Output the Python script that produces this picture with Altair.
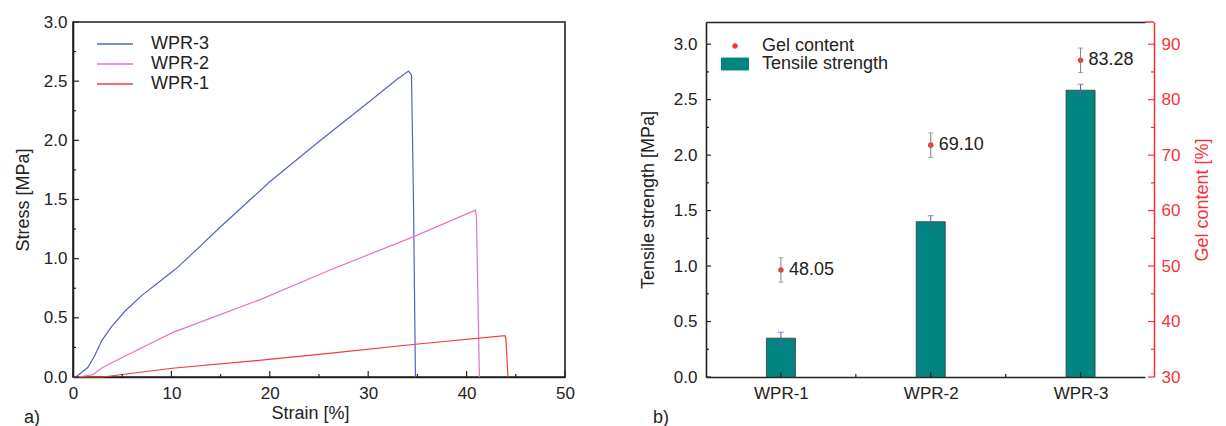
import altair as alt
import pandas as pd

FONT = "Liberation Sans"
TXT = "#222222"
RED = "#f5333a"
TEAL = "#008580"

# ---------------- panel a) : stress-strain curves ----------------
series_names = ["WPR-3", "WPR-2", "WPR-1"]
series_colors = ["#5560c4", "#e374c4", "#f23c3c"]

wpr3_strain = [0.0, 0.3, 1.5, 2.2, 2.94, 3.96, 5.32, 7.0, 9.0, 10.4, 12.1, 15.0, 20.0, 25.0, 30.0, 33.0, 34.1, 34.4, 34.6, 34.8]
wpr3_stress = [0.0, 0.0, 0.08, 0.18, 0.31, 0.43, 0.56, 0.69, 0.82, 0.91, 1.04, 1.27, 1.65, 1.99, 2.32, 2.52, 2.585, 2.55, 1.5, 0.0]
wpr2_strain = [0.0, 0.2, 1.0, 2.0, 3.0, 5.35, 10.1, 18.9, 26.0, 34.45, 40.9, 41.0, 41.3]
wpr2_stress = [0.0, 0.0, 0.005, 0.02, 0.08, 0.18, 0.375, 0.65, 0.90, 1.18, 1.41, 1.35, 0.0]
wpr1_strain = [0.0, 3.0, 10.1, 18.9, 26.0, 34.8, 43.9, 44.0, 44.2]
wpr1_stress = [0.0, 0.0, 0.074, 0.14, 0.20, 0.277, 0.35, 0.32, 0.0]

strain_major = [0, 10, 20, 30, 40, 50]
strain_minor = [5, 15, 25, 35, 45]
stress_major = [0.0, 0.5, 1.0, 1.5, 2.0, 2.5, 3.0]
stress_minor = [0.25, 0.75, 1.25, 1.75, 2.25, 2.75]

# ---------------- panel b) : bars + gel content ----------------
categories = ["WPR-1", "WPR-2", "WPR-3"]
cat_pos = [1, 2, 3]
tensile = [0.35, 1.40, 2.585]
tensile_err = [0.054, 0.054, 0.054]
gel = [49.3, 71.8, 87.1]
gel_err = [2.2, 2.2, 2.2]
gel_labels = ["48.05", "69.10", "83.28"]
legend_names = ["Gel content", "Tensile strength"]

ts_major = [0.0, 0.5, 1.0, 1.5, 2.0, 2.5, 3.0]
ts_minor = [0.25, 0.75, 1.25, 1.75, 2.25, 2.75]
gel_major = [30, 40, 50, 60, 70, 80, 90]
gel_minor = [35, 45, 55, 65, 75, 85]
x_major_b = [1, 2, 3]
x_minor_b = [1.5, 2.5]

W1, W2, H = 492, 439, 355

# ---------------- panel a) chart ----------------
rows = []
for name, xs, ys in [("WPR-3", wpr3_strain, wpr3_stress),
                     ("WPR-2", wpr2_strain, wpr2_stress),
                     ("WPR-1", wpr1_strain, wpr1_stress)]:
    for i, (x, y) in enumerate(zip(xs, ys)):
        rows.append({"series": name, "strain": x, "stress": y, "i": i})
df_a = pd.DataFrame(rows)

xs_a = alt.Scale(domain=[0, 50], nice=False, zero=False, padding=0)
ys_a = alt.Scale(domain=[0, 3], nice=False, zero=False, padding=0)
ax_x_a = alt.Axis(values=strain_major, format="d", title="Strain [%]", labelPadding=8, titlePadding=3,
                  titleX=237)
ax_y_a = alt.Axis(values=stress_major, format=".1f", title="Stress [MPa]", labelPadding=6, titlePadding=11)

lines = alt.Chart(df_a).mark_line(strokeWidth=1.2).encode(
    x=alt.X("strain:Q", scale=xs_a, axis=ax_x_a),
    y=alt.Y("stress:Q", scale=ys_a, axis=ax_y_a),
    color=alt.Color("series:N", scale=alt.Scale(domain=series_names, range=series_colors),
                    legend=alt.Legend(title=None, orient="none", legendX=32, legendY=12,
                                      symbolType="M-2,0H2", symbolSize=324, symbolStrokeWidth=1.4,
                                      labelFontSize=18, labelOffset=26, rowPadding=1, padding=0,
                                      labelColor=TXT, labelFont=FONT)),
    order="i:Q",
)


def xticks(vals, scale, axis, length):
    return alt.Chart(pd.DataFrame({"v": vals})).mark_rule(color=TXT, strokeWidth=1.2).encode(
        x=alt.X("v:Q", scale=scale, axis=axis),
        y=alt.value(H), y2=alt.value(H - length))


def yticks(vals, scale, axis, x0, x1, color=TXT):
    return alt.Chart(pd.DataFrame({"v": vals})).mark_rule(color=color, strokeWidth=1.2).encode(
        y=alt.Y("v:Q", scale=scale, axis=axis),
        x=alt.value(x0), x2=alt.value(x1))


label_a = alt.Chart(pd.DataFrame({"t": ["a)"]})).mark_text(
    align="left", baseline="alphabetic", fontSize=18, font=FONT, color=TXT
).encode(text="t:N", x=alt.value(25 - 74), y=alt.value(H + 46))

chart_a = alt.layer(
    lines,
    xticks(strain_major, xs_a, ax_x_a, 6), xticks(strain_minor, xs_a, ax_x_a, 3),
    yticks(stress_major, ys_a, ax_y_a, 0, 6), yticks(stress_minor, ys_a, ax_y_a, 0, 3),
    label_a,
).properties(width=W1, height=H,
             view=alt.ViewBackground(stroke=TXT, strokeWidth=1.6))

# ---------------- panel b) chart ----------------
xs_b = alt.Scale(domain=[0.5, 3.43], nice=False, zero=False, padding=0)
ys_b = alt.Scale(domain=[0, 3.2], nice=False, zero=False, padding=0)
gs_b = alt.Scale(domain=[30, 94], nice=False, zero=False, padding=0)

label_expr = " : ".join(f"datum.value == {p} ? '{c}'" for p, c in zip(cat_pos[:-1], categories[:-1])) \
    + f" : '{categories[-1]}'"

ax_x_b = alt.Axis(values=x_major_b, labelExpr=label_expr, title=None, labelPadding=8)
ax_ts = alt.Axis(values=ts_major, format=".1f", title="Tensile strength [MPa]", labelPadding=9, titlePadding=16)
ax_top = alt.Axis(orient="top", labels=False, title=None, domainColor=TXT)
ax_gel = alt.Axis(orient="right", offset=9, values=gel_major, title="Gel content [%]",
                  titleAngle=270, titleBaseline="top", labelColor=RED, titleColor=RED, domainColor=RED,
                  domainWidth=1.5, labelPadding=7, titlePadding=14)

df_b = pd.DataFrame({
    "pos": cat_pos, "cat": categories,
    "tensile": tensile,
    "t_lo": [t - e for t, e in zip(tensile, tensile_err)],
    "t_hi": [t + e for t, e in zip(tensile, tensile_err)],
    "gel": gel,
    "g_lo": [g - e for g, e in zip(gel, gel_err)],
    "g_hi": [g + e for g, e in zip(gel, gel_err)],
    "label": gel_labels,
    "series": ["Gel content"] * 3,
})
caps_t = pd.DataFrame({"pos": cat_pos * 2,
                       "v": [t - e for t, e in zip(tensile, tensile_err)] + [t + e for t, e in zip(tensile, tensile_err)]})
caps_g = pd.DataFrame({"pos": cat_pos * 2,
                       "v": [g - e for g, e in zip(gel, gel_err)] + [g + e for g, e in zip(gel, gel_err)]})

bars = alt.Chart(df_b).mark_bar(size=29, color=TEAL, stroke="#3a3a3a", strokeWidth=0.8).encode(
    x=alt.X("pos:Q", scale=xs_b, axis=ax_x_b),
    y=alt.Y("tensile:Q", scale=ys_b, axis=ax_ts),
)
t_err = alt.Chart(df_b).mark_rule(color="#5a5ab0", strokeWidth=1).encode(
    x=alt.X("pos:Q", scale=xs_b, axis=ax_x_b),
    y=alt.Y("t_lo:Q", scale=ys_b, axis=ax_ts), y2="t_hi:Q")
t_caps = alt.Chart(caps_t).mark_tick(orient="horizontal", size=6, thickness=1, color="#5a5ab0").encode(
    x=alt.X("pos:Q", scale=xs_b, axis=ax_x_b),
    y=alt.Y("v:Q", scale=ys_b, axis=ax_ts))

left_group = alt.layer(
    bars, t_err, t_caps,
    yticks(ts_major, ys_b, ax_ts, 0, 5), yticks(ts_minor, ys_b, ax_ts, 0, 3),
    xticks(x_major_b, xs_b, ax_x_b, 5), xticks(x_minor_b, xs_b, ax_x_b, 3),
)

dot_path = "M-0.4,0A0.4,0.4,0,1,1,0.4,0A0.4,0.4,0,1,1,-0.4,0Z"
rect_path = "M-2,-0.92H2V0.92H-2Z"
leg_b = alt.Legend(title=None, orient="none", legendX=20, legendY=15, symbolSize=196,
                   labelFontSize=18, labelOffset=18, rowPadding=0, padding=0,
                   labelColor=TXT, labelFont=FONT)

points = alt.Chart(df_b).mark_point(filled=True, size=196, opacity=1).encode(
    x=alt.X("pos:Q", scale=xs_b, axis=ax_top),
    y=alt.Y("gel:Q", scale=gs_b, axis=ax_gel),
    color=alt.Color("series:N", scale=alt.Scale(domain=legend_names, range=[RED, TEAL]), legend=leg_b),
    shape=alt.Shape("series:N", scale=alt.Scale(domain=legend_names, range=[dot_path, rect_path]), legend=leg_b),
)
g_err = alt.Chart(df_b).mark_rule(color="#808080", strokeWidth=1).encode(
    x=alt.X("pos:Q", scale=xs_b, axis=ax_top),
    y=alt.Y("g_lo:Q", scale=gs_b, axis=ax_gel), y2="g_hi:Q")
g_caps = alt.Chart(caps_g).mark_tick(orient="horizontal", size=5, thickness=1, color="#808080").encode(
    x=alt.X("pos:Q", scale=xs_b, axis=ax_top),
    y=alt.Y("v:Q", scale=gs_b, axis=ax_gel))
g_text = alt.Chart(df_b).mark_text(align="left", baseline="middle", dx=8, fontSize=18,
                                   font=FONT, color=TXT).encode(
    x=alt.X("pos:Q", scale=xs_b, axis=ax_top),
    y=alt.Y("gel:Q", scale=gs_b, axis=ax_gel),
    text="label:N")
top_cap = alt.Chart(pd.DataFrame({"v": [gs_b.domain[1]]})).mark_rule(color=RED, strokeWidth=1.5).encode(
    y=alt.Y("v:Q", scale=gs_b, axis=ax_gel), x=alt.value(W2), x2=alt.value(W2 + 9))
label_b = alt.Chart(pd.DataFrame({"t": ["b)"]})).mark_text(
    align="left", baseline="alphabetic", fontSize=18, font=FONT, color=TXT
).encode(text="t:N", x=alt.value(655 - 708), y=alt.value(H + 46))

right_group = alt.layer(
    points, g_err, g_caps, g_text,
    yticks(gel_major, gs_b, ax_gel, W2 + 3, W2 + 9, RED),
    yticks(gel_minor, gs_b, ax_gel, W2 + 6, W2 + 9, RED),
    top_cap, label_b,
)

chart_b = alt.layer(left_group, right_group).resolve_scale(y="independent").resolve_axis(
    x="independent", y="independent").properties(width=W2, height=H)

chart = alt.hconcat(chart_a, chart_b, spacing=141, bounds="flush").resolve_scale(
    color="independent", shape="independent"
).resolve_legend(color="independent", shape="independent").properties(
    padding={"left": 13, "top": 12, "right": 5, "bottom": 0}
).configure(font=FONT).configure_view(strokeWidth=0).configure_axis(
    labelFont=FONT, titleFont=FONT, labelFontSize=17, titleFontSize=18,
    labelColor=TXT, titleColor=TXT, domainColor=TXT, domainWidth=1.6,
    ticks=False, grid=False, labelFlush=False, titleFontWeight="normal"
)

chart.save("out.html", embed_options={"renderer": "svg", "actions": False})
